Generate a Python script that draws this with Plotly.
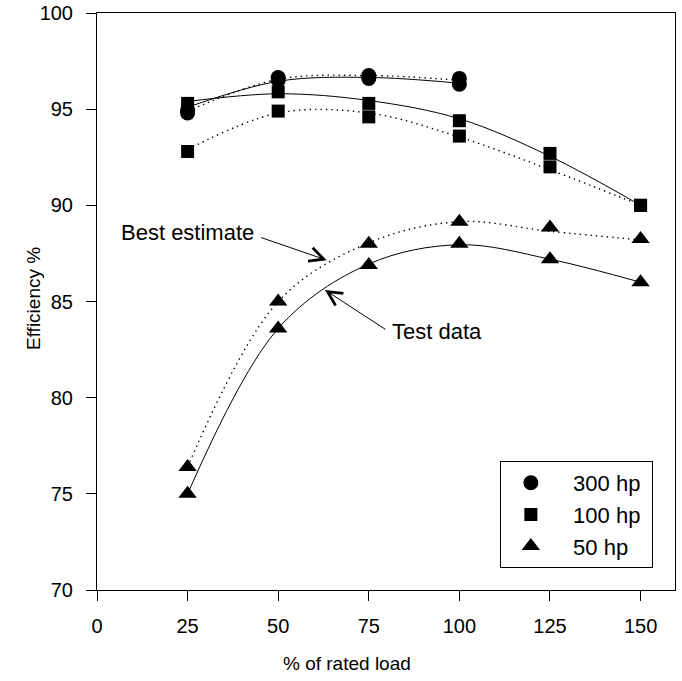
import plotly.graph_objects as go

# ---- data ----
load_all = [25, 50, 75, 100, 125, 150]
load_300 = [25, 50, 75, 100]

hp300_test = [94.95, 96.5, 96.6, 96.3]
hp300_best = [94.8, 96.65, 96.75, 96.6]
hp100_test = [95.3, 95.9, 95.3, 94.4, 92.7, 90.0]
hp100_best = [92.8, 94.9, 94.6, 93.6, 92.0, 90.0]
hp50_test = [75.0, 83.6, 86.9, 88.0, 87.2, 86.0]
hp50_best = [76.4, 85.0, 88.0, 89.15, 88.85, 88.25]

# fitted curve values (read at the same load points)
fit300_test = [95.1, 96.45, 96.65, 96.35]
fit300_best = [94.9, 96.55, 96.75, 96.5]
fit100_test = [95.4, 95.8, 95.45, 94.5, 92.55, 90.0]
fit100_best = [92.9, 94.8, 94.8, 93.55, 91.85, 90.0]
fit50_test = [75.0, 83.6, 86.95, 87.95, 87.2, 86.0]
fit50_best = [76.4, 85.0, 88.05, 89.15, 88.65, 88.2]

legend_names = ["300 hp", "100 hp", "50 hp"]
x_ticks = [0, 25, 50, 75, 100, 125, 150]
y_ticks = [70, 75, 80, 85, 90, 95, 100]

FONT = "Liberation Sans, Arial, sans-serif"
BLACK = "#000000"

fig = go.Figure()

def curve(x, y, dotted):
    fig.add_trace(go.Scatter(x=x, y=y, mode="lines",
                             line=dict(color=BLACK, width=1.4 if dotted else 1,
                                       dash="1.4px,4px" if dotted else "solid",
                                       shape="spline", smoothing=1.0),
                             showlegend=False, hoverinfo="skip"))

curve(load_300, fit300_test, False)
curve(load_300, fit300_best, True)
curve(load_all, fit100_test, False)
curve(load_all, fit100_best, True)
curve(load_all, fit50_test, False)
curve(load_all, fit50_best, True)

def pts(x, y, symbol, size):
    fig.add_trace(go.Scatter(x=x, y=y, mode="markers",
                             marker=dict(symbol=symbol, size=size, color=BLACK, line=dict(width=0)),
                             showlegend=False))

pts(load_all, hp100_test, "square", 13)
pts(load_all, hp100_best, "square", 13)
pts(load_300, hp300_test, "circle", 15)
pts(load_300, hp300_best, "circle", 15)
pts(load_all, hp50_test, "triangle-up", 16)
pts(load_all, hp50_best, "triangle-up", 16)

for name, sym, size in zip(legend_names, ["circle", "square", "triangle-up"], [15, 13, 16]):
    fig.add_trace(go.Scatter(x=[None], y=[None], mode="markers",
                             name="\u00a0\u00a0" + name + "\u00a0",
                             marker=dict(symbol=sym, size=size, color=BLACK)))

# annotations
fig.add_annotation(x=63.4, y=87.15, ax=44.9, ay=88.35, axref="x", ayref="y",
                   xref="x", yref="y", text="", showarrow=True,
                   arrowhead=5, arrowsize=2.8, arrowwidth=1, arrowcolor=BLACK)
fig.add_annotation(x=25.1, y=88.6, xref="x", yref="y", text="Best estimate",
                   showarrow=False, font=dict(family=FONT, size=22, color=BLACK))
fig.add_annotation(x=62.9, y=85.6, ax=80.0, ay=83.5, axref="x", ayref="y",
                   xref="x", yref="y", text="", showarrow=True,
                   arrowhead=5, arrowsize=2.8, arrowwidth=1, arrowcolor=BLACK)
fig.add_annotation(x=93.7, y=83.46, xref="x", yref="y", text="Test data",
                   showarrow=False, font=dict(family=FONT, size=22, color=BLACK))

# plot-area pixel frame (used to place axis titles as in the reference)
pl, pr, pt, pb = 97, 682 - 7, 13, 681 - 91
fig.add_annotation(x=(347 - pl) / (pr - pl), y=(pb - 663) / (pb - pt),
                   xref="paper", yref="paper", xanchor="center", yanchor="middle",
                   text="% of rated load",
                   showarrow=False, font=dict(family=FONT, size=19, color=BLACK))
fig.add_annotation(x=(33 - pl) / (pr - pl), y=(pb - 299) / (pb - pt),
                   xref="paper", yref="paper", xanchor="center", yanchor="middle",
                   text="Efficiency %", textangle=-90,
                   showarrow=False, font=dict(family=FONT, size=19, color=BLACK))

axis_common = dict(showgrid=False, zeroline=False, showline=True, linecolor=BLACK,
                   linewidth=1, mirror=True, ticks="outside", ticklen=10,
                   tickcolor=BLACK, tickwidth=1, automargin=False,
                   tickfont=dict(family=FONT, size=20, color=BLACK))

fig.update_layout(
    width=682, height=681,
    margin=dict(l=pl, r=682 - pr, t=pt, b=681 - pb),
    paper_bgcolor="white", plot_bgcolor="white",
    font=dict(family=FONT, color=BLACK),
    xaxis=dict(range=[0, 159.5], tickvals=x_ticks, ticklabelstandoff=8, **axis_common),
    yaxis=dict(range=[70, 100], tickvals=y_ticks, ticklabelstandoff=9, **axis_common),
    legend=dict(x=0.697, y=0.2236, xanchor="left", yanchor="top",
                bordercolor=BLACK, borderwidth=1, bgcolor="white",
                font=dict(family=FONT, size=22, color=BLACK),
                itemwidth=50),
)

fig.write_html("out.html", config={"displayModeBar": False},
               post_script="document.body.style.margin='0px';document.body.style.overflow='hidden';")
